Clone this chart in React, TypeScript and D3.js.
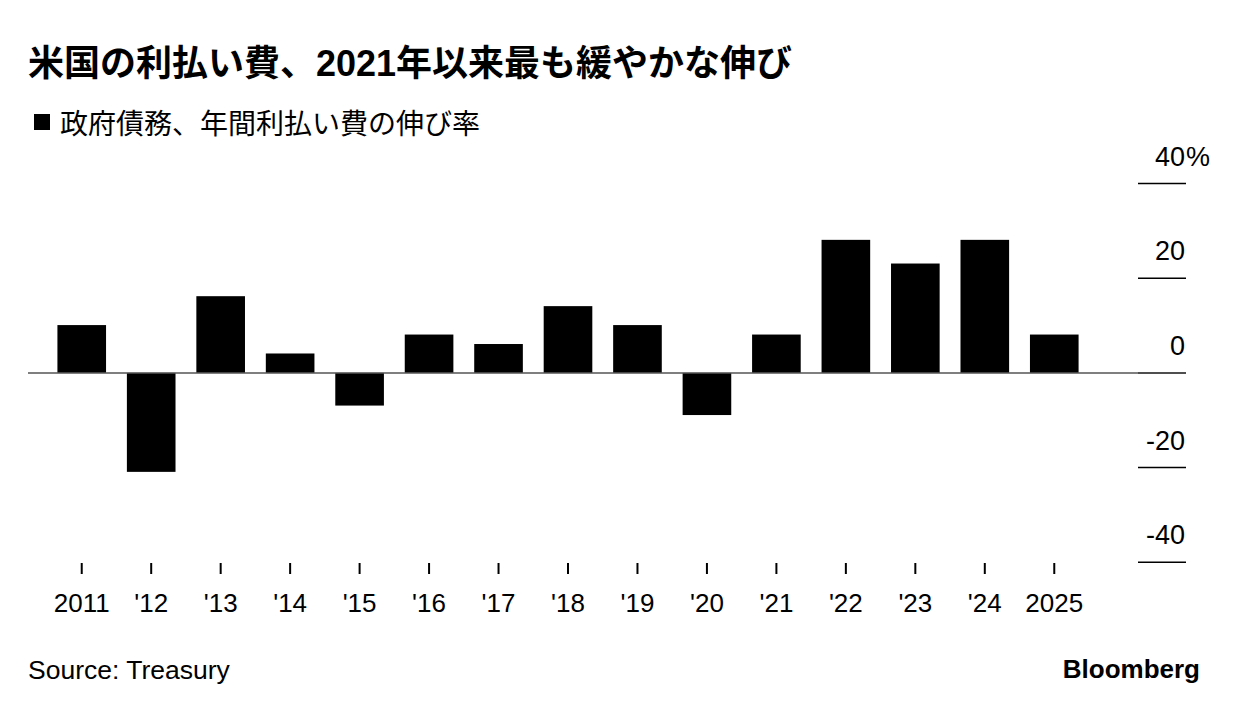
import React from "react";
import * as d3 from "d3";

const years = ["2011", "'12", "'13", "'14", "'15", "'16", "'17", "'18", "'19", "'20", "'21", "'22", "'23", "'24", "2025"];
const growth = [10.1, -20.9, 16.2, 4.1, -6.9, 8.1, 6.1, 14.1, 10.1, -8.9, 8.1, 28.1, 23.1, 28.1, 8.1];
const yTicks = [40, 20, 0, -20, -40];

const title = "米国の利払い費、2021年以来最も緩やかな伸び";
const legendLabel = "政府債務、年間利払い費の伸び率";
const source = "Source: Treasury";

const W = 1240;
const H = 712;
const latin = "'Liberation Sans', Arial, Helvetica, sans-serif";
const cjk = "'Liberation Sans', 'Noto Sans CJK JP', sans-serif";

export default function App() {
  const x = d3.scaleBand<string>().domain(years).range([47, 1089]).paddingInner(0.3).paddingOuter(0.15);
  const y = d3.scaleLinear().domain([-40, 40]).range([562.3, 183.5]);
  const y0 = y(0);

  return (
    <svg width={W} height={H} style={{ position: "absolute", left: 0, top: 0, background: "#fff" }}>
      <text x={28} y={76} fontFamily={cjk} fontWeight={700} fontSize={36} fill="#000">{title}</text>
      <rect x={34} y={114} width={16} height={16} fill="#000" />
      <text x={60} y={134} fontFamily={cjk} fontSize={28} fill="#000">{legendLabel}</text>

      {yTicks.map((t) => (
        <g key={t}>
          <line x1={1138} x2={1186} y1={y(t)} y2={y(t)} stroke="#000" strokeWidth={1.5} />
          <text x={1185} y={y(t) - 18} textAnchor="end" fontFamily={latin} fontSize={27} fill="#000">{t}</text>
          {t === 40 ? (
            <text x={1186} y={y(t) - 18} fontFamily={latin} fontSize={27} fill="#000">%</text>
          ) : null}
        </g>
      ))}

      {years.map((yr, i) => {
        const v = growth[i];
        return (
          <rect
            key={yr}
            x={x(yr)}
            y={Math.min(y(v), y0)}
            width={x.bandwidth()}
            height={Math.abs(y(v) - y0)}
            fill="#000"
          />
        );
      })}

      <line x1={28} x2={1186} y1={y0} y2={y0} stroke="#555" strokeWidth={1.5} />

      {years.map((yr) => {
        const cx = (x(yr) as number) + x.bandwidth() / 2;
        return (
          <g key={"t" + yr}>
            <line x1={cx} x2={cx} y1={563} y2={574} stroke="#000" strokeWidth={2} />
            <text x={cx} y={612} textAnchor="middle" fontFamily={latin} fontSize={26} fill="#000">{yr}</text>
          </g>
        );
      })}

      <text x={28} y={679} fontFamily={latin} fontSize={26.5} fill="#000">{source}</text>
      <text x={1200} y={678} textAnchor="end" fontFamily={latin} fontWeight={700} fontSize={26} fill="#000">Bloomberg</text>
    </svg>
  );
}
